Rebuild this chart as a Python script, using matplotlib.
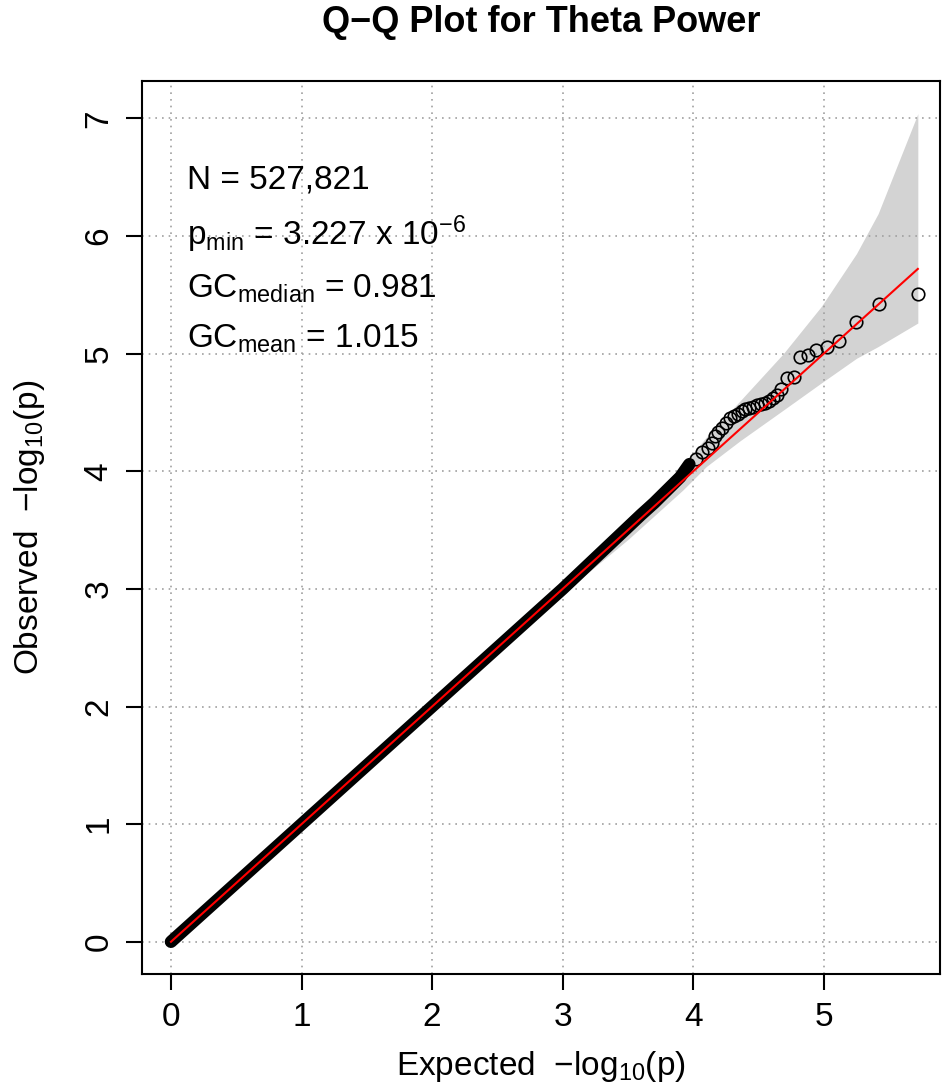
import matplotlib
matplotlib.use('Agg')
import matplotlib.pyplot as plt

plt.rcParams['font.family'] = ['Liberation Sans', 'DejaVu Sans']
plt.rcParams['mathtext.fontset'] = 'custom'
plt.rcParams['mathtext.rm'] = 'Liberation Sans'
plt.rcParams['mathtext.it'] = 'Liberation Sans:italic'
plt.rcParams['mathtext.bf'] = 'Liberation Sans:bold'

# Bulk of the p-values: far too dense to separate, they read as a solid band
bulk_expected = [0.0, 0.5, 1.0, 1.5, 2.0, 2.5, 3.0, 3.2, 3.4, 3.6, 3.7, 3.8, 3.9, 3.97]
bulk_observed = [0.0, 0.5, 1.0, 1.5, 2.0, 2.5, 3.0, 3.21, 3.42, 3.63, 3.73, 3.84, 3.95, 4.06]

# Distinct points in the upper tail
tail_expected = [4.02, 4.07, 4.11, 4.14, 4.17, 4.19, 4.22, 4.25, 4.28, 4.31, 4.34, 4.37,
                 4.40, 4.43, 4.46, 4.49, 4.52, 4.55, 4.58, 4.61, 4.64, 4.675, 4.72, 4.77,
                 4.82, 4.88, 4.94, 5.025, 5.12, 5.245, 5.42, 5.725]
tail_observed = [4.10, 4.16, 4.20, 4.24, 4.30, 4.33, 4.37, 4.41, 4.45, 4.47, 4.49, 4.51,
                 4.53, 4.54, 4.55, 4.56, 4.57, 4.58, 4.60, 4.62, 4.65, 4.70, 4.795, 4.80,
                 4.97, 4.985, 5.03, 5.055, 5.11, 5.27, 5.42, 5.51]

# Confidence band around the null line
band_expected = [0.0, 1.0, 2.0, 3.0, 3.5, 3.92, 4.10, 4.36, 4.69, 4.98, 5.25, 5.416, 5.72]
band_upper = [0.0, 1.02, 2.03, 3.06, 3.60, 4.05, 4.29, 4.60, 5.00, 5.40, 5.85, 6.19, 7.04]
band_lower = [0.0, 0.99, 1.98, 2.96, 3.42, 3.84, 4.04, 4.26, 4.52, 4.75, 4.96, 5.06, 5.26]

max_expected = 5.72

stats_lines = [r'N = 527,821',
               r'p$_{\mathrm{min}}$ = 3.227 x 10$^{-6}$',
               r'GC$_{\mathrm{median}}$ = 0.981',
               r'GC$_{\mathrm{mean}}$ = 1.015']
stats_y = [6.40, 5.92, 5.48, 5.05]

fig = plt.figure(figsize=(9.44, 10.89), dpi=100)
ax = fig.add_axes([0.150, 0.1056, 0.8458, 0.8203])

ax.fill_between(band_expected, band_lower, band_upper, color='#D3D3D3', lw=0, zorder=1)
ax.set_axisbelow('line')
ax.grid(True, color='#A0A0A0', lw=1.2, linestyle=(0, (1, 3)))

ax.plot(bulk_expected, bulk_observed, color='black', lw=9, solid_capstyle='round', zorder=3)
ax.plot(tail_expected, tail_observed, 'o', mfc='none', mec='black', ms=9, mew=1.2, zorder=3)
ax.plot([0, max_expected], [0, max_expected], color='red', lw=1.5, zorder=4)

for line, y in zip(stats_lines, stats_y):
    ax.text(0.12, y, line, fontsize=24, va='baseline', ha='left')

ax.set_xlim(-0.225, 5.89)
ax.set_ylim(-0.274, 7.32)
ax.set_xticks(range(6))
ax.set_yticks(range(8))
ax.tick_params(length=11.5, width=1.5, labelsize=24)
ax.tick_params(axis='x', pad=9)
ax.tick_params(axis='y', pad=8, labelrotation=90)
for lab in ax.get_yticklabels():
    lab.set_va('center')
for s in ax.spines.values():
    s.set_linewidth(1.5)

fig.text(541 / 944, 1 - 23 / 1089, 'Q\u2212Q Plot for Theta Power', fontsize=26,
         fontweight='bold', ha='center', va='center')
fig.text(541 / 944, 1 - 1066 / 1089, 'Expected  \u2212log$_{10}$(p)', fontsize=24,
         ha='center', va='center')
fig.text(30 / 944, 1 - 527 / 1089, 'Observed  \u2212log$_{10}$(p)', fontsize=24,
         ha='center', va='center', rotation=90)

fig.savefig('out.png', dpi=100)
